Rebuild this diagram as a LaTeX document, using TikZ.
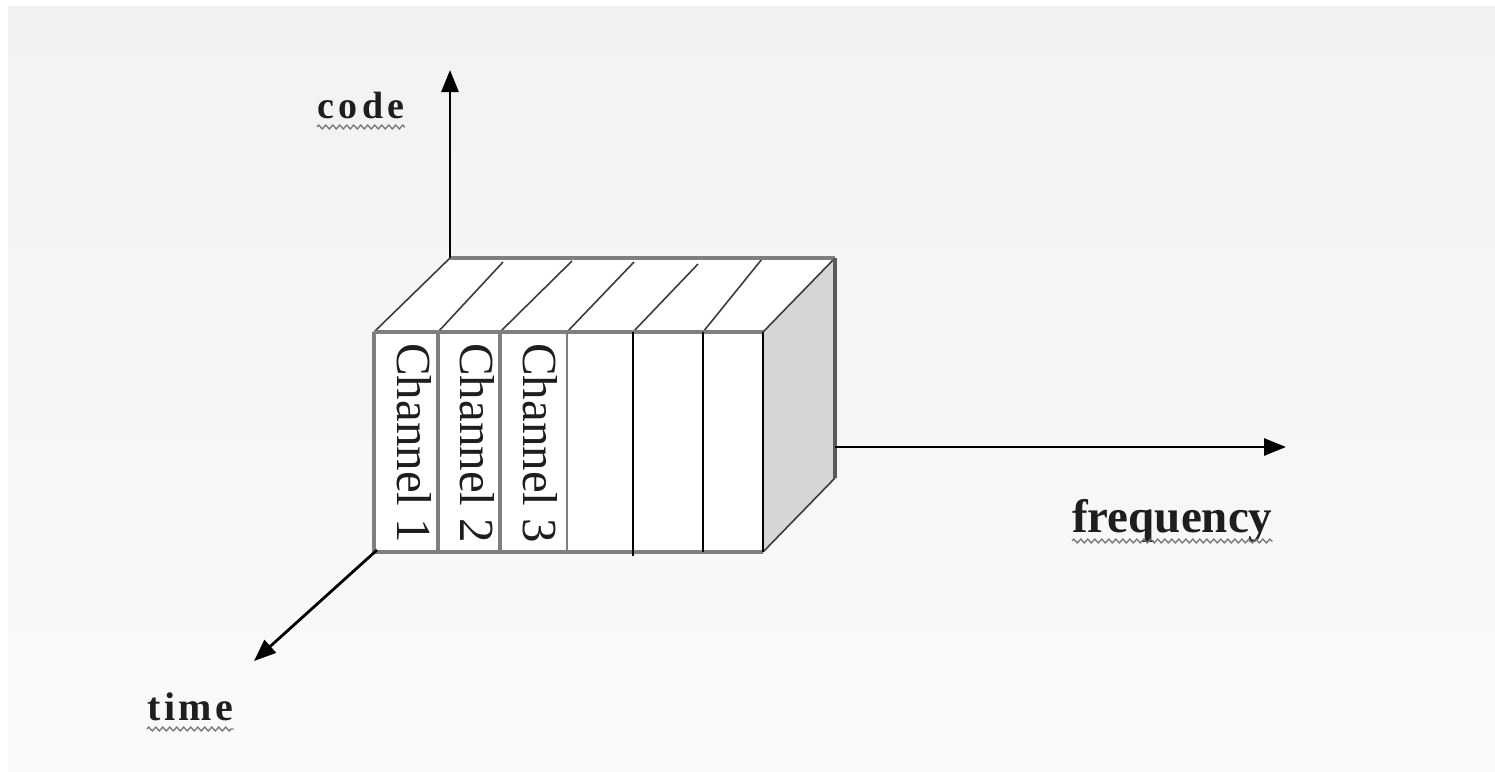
\documentclass[tikz,border=0pt]{standalone}
\usepackage{fontspec}
\setmainfont{Liberation Serif}
\usetikzlibrary{arrows.meta,decorations.pathmorphing}
\definecolor{edgegray}{HTML}{7F7F7F}
\definecolor{darkedge}{HTML}{5A5A5A}
\definecolor{diag}{HTML}{3C3C3C}
\definecolor{sideface}{HTML}{D6D6D6}
\definecolor{squiggle}{HTML}{7A7A7A}
\definecolor{bgtop}{HTML}{F2F2F2}
\definecolor{bgbot}{HTML}{FAFAFA}
\definecolor{labeltext}{HTML}{1E1E1E}
\tikzset{
  outer/.style={draw=edgegray, line width=3.5pt},
  thindiv/.style={draw=black, line width=2pt},
  diagline/.style={draw=diag, line width=1.6pt},
  axis/.style={draw=black, line width=2.8pt, -{Triangle[length=22pt,width=17pt]}},
  chan/.style={font=\fontsize{49}{49}\selectfont, text=labeltext, rotate=-90, anchor=base west, inner sep=0pt},
  axlabel/.style={inner sep=0pt, anchor=base west, text=labeltext},
  squig/.style={draw=squiggle, line width=1.4pt, decorate,
    decoration={zigzag, segment length=7pt, amplitude=1.8pt}}
}
\begin{document}
\begin{tikzpicture}[x=1pt,y=-1pt]
\useasboundingbox (0,0) rectangle (1495,771);
\fill[white] (0,0) rectangle (1495,771);
\shade[top color=bgtop, bottom color=bgbot] (8,6) rectangle (1495,771);

% corner coordinates of the box
\coordinate (FTL) at (374,332);
\coordinate (FTR) at (763,332);
\coordinate (FBL) at (374,552);
\coordinate (FBR) at (763,552);
\coordinate (BTL) at (450,258);
\coordinate (BTR) at (835,258);
\coordinate (BBR) at (835,478);

% faces
\fill[white] (FTL) -- (BTL) -- (BTR) -- (FTR) -- cycle;
\fill[white] (FTL) rectangle (FBR);
\fill[sideface] (FTR) -- (BTR) -- (BBR) -- (FBR) -- cycle;

% top face diagonals for slot dividers
\coordinate (d1) at (438,332); \coordinate (e1) at (503,262);
\coordinate (d2) at (500,332); \coordinate (e2) at (572,261);
\coordinate (d3) at (567,332); \coordinate (e3) at (634,262);
\coordinate (d4) at (633,332); \coordinate (e4) at (698,264);
\coordinate (d5) at (703,332); \coordinate (e5) at (762,259);
\foreach \i in {1,...,5} { \draw[diagline] (d\i) -- (e\i); }

% box outline
\draw[diagline] (FTL) -- (BTL);
\draw[diagline] (FTR) -- (BTR);
\draw[diagline] (FBR) -- (BBR);
\draw[outer] (BTL) -- (BTR);
\draw[outer] (FTL) -- (FTR);
\draw[outer] (FTL) -- (FBL) -- (FBR);
\draw[draw=darkedge, line width=3.5pt] (BTR) -- (BBR);

% front dividers
\coordinate (b1) at (438,552);
\coordinate (b2) at (500,552);
\coordinate (b3) at (567,552);
\coordinate (b4) at (633,556);
\coordinate (b5) at (703,552);
\draw[outer] (d1) -- (b1);
\draw[outer] (d2) -- (b2);
\draw[draw=edgegray, line width=2pt] (d3) -- (b3);
\draw[thindiv] (d4) -- (b4);
\draw[thindiv] (d5) -- (b5);
\draw[thindiv] (FTR) -- (FBR);

% channel labels
\node[chan] (ch1) at (397,343) {Channel 1};
\node[chan] (ch2) at (460,343) {Channel 2};
\node[chan] (ch3) at (523,343) {Channel 3};

% axes
\coordinate (codetip) at (450,70);
\coordinate (freqstart) at (835,447);
\coordinate (freqtip) at (1286,447);
\coordinate (timestart) at (377,550);
\coordinate (timetip) at (254,661);
\draw[axis] (BTL) -- (codetip);
\draw[axis] (freqstart) -- (freqtip);
\draw[axis] (timestart) -- (timetip);

% axis labels
\node[axlabel, font=\bfseries\fontsize{38}{38}\selectfont\addfontfeatures{LetterSpace=12}] (code) at (317,118) {code};
\node[axlabel, font=\bfseries\fontsize{47}{47}\selectfont] (freq) at (1072,532) {frequency};
\node[axlabel, font=\bfseries\fontsize{40}{40}\selectfont\addfontfeatures{LetterSpace=9}] (time) at (147,720) {time};

\draw[squig] ([yshift=-9pt]code.base west) -- ([yshift=-9pt]code.base east);
\draw[squig] ([yshift=-9pt]freq.base west) -- ([yshift=-9pt]freq.base east);
\draw[squig] ([yshift=-9pt]time.base west) -- ([yshift=-9pt]time.base east);
\end{tikzpicture}
\end{document}
